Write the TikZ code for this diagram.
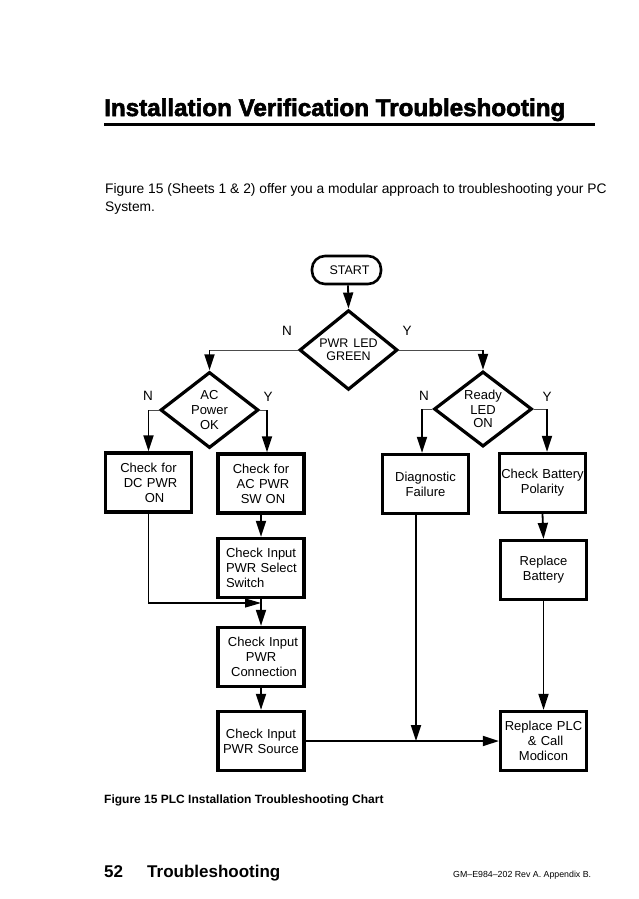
\documentclass[tikz,border=0pt]{standalone}
\usepackage{fontspec}
\setmainfont{Liberation Sans}
\newfontfamily\heavyfont{Liberation Sans Bold}[FakeBold=2.5]
\usetikzlibrary{shapes.geometric,arrows.meta,calc}
\tikzset{
  boxnode/.style={draw, line width=3.2pt, minimum height=59pt, inner sep=0pt,
    text width=86pt, align=center, font=\fontsize{13}{15}\selectfont},
  decnode/.style={draw, diamond, line width=3.2pt, minimum width=98pt, minimum height=65pt,
    inner sep=0pt, align=center, font=\fontsize{13}{15}\selectfont},
  termnode/.style={draw, line width=2.6pt, rounded corners=13pt, minimum width=69pt,
    minimum height=28pt, inner sep=0pt, font=\fontsize{12.5}{14}\selectfont},
  yn/.style={font=\fontsize{13.5}{15}\selectfont, inner sep=0pt, anchor=base},
  conn/.style={line width=1.8pt, -{Triangle[length=16pt,width=10pt]}},
  hair/.style={line width=0.9pt, draw=black!70}
}
\begin{document}
\begin{tikzpicture}[x=1pt,y=-1pt]
\useasboundingbox (0,0) rectangle (638,899);
\fill[white] (0,0) rectangle (638,899);

% heading
\node[anchor=base west, inner sep=0pt] (title) at (104,116)
  {\resizebox{461pt}{!}{\heavyfont Installation Verification Troubleshooting}};
\draw[line width=2.2pt] (104,124.5) -- (595,124.5);

\node[anchor=base west, inner sep=0pt, font=\fontsize{13.8}{15}\selectfont] (par1) at (105,193)
  {Figure 15 (Sheets 1 \& 2) offer you a modular approach to troubleshooting your PC};
\node[anchor=base west, inner sep=0pt, font=\fontsize{13.8}{15}\selectfont] (par2) at (105,211)
  {System.};

% flowchart nodes
\node[termnode] (start) at (346.5,270) {\hspace*{6pt}START};
\node[decnode, font=\fontsize{12.5}{12.5}\selectfont] (pwr) at (348.5,350) {PWR\hspace{5pt}LED\\GREEN};
\node[decnode] (ac) at (209.5,410) {AC\\Power\\OK};
\node[decnode] (ready) at (483,409) {Ready\\LED\\[-2pt]ON};

\node[boxnode] (dc) at (148.5,482.5) {Check for\hspace*{22pt}\\\hspace*{4pt}DC PWR\\\hspace*{12pt}ON};
\node[boxnode] (acpwr) at (261,483.5) {Check for\hspace*{12pt}\\\hspace*{4pt}AC PWR\\\hspace*{4pt}SW\hspace{4pt}ON};
\node[boxnode, align=left] (sel) at (261,568) {\hspace*{8pt}Check Input\\\hspace*{8pt}PWR Select\\\hspace*{8pt}Switch};
\node[boxnode] (conn) at (261,657) {\hspace*{4pt}Check Input\\PWR\\\hspace*{6pt}Connection};
\node[boxnode] (src) at (261,741) {Check Input\\PWR Source};
\node[boxnode] (diag) at (425.5,484) {Diagnostic\\Failure\\[6pt]};
\node[boxnode] (batt) at (542.5,483) {Check Battery\\Polarity\\[6pt]};
\node[boxnode] (rbatt) at (543.5,570) {Replace\\Battery};
\node[boxnode] (plc) at (543.5,741) {Replace PLC\\\hspace*{4pt}\& Call\\Modicon};

% Y / N labels
\node[yn] (pn) at (287,335) {N};
\node[yn] (py) at (407,335) {Y};
\node[yn] (an) at (148,400) {N};
\node[yn] (ay) at (268,401) {Y};
\node[yn] (rn) at (424,400) {N};
\node[yn] (ry) at (547,401) {Y};

% connectors
\draw[conn] (start.south -| 348,0) -- (pwr.north);
\coordinate (pl) at (pwr.west -| ac.north);
\coordinate (pr) at (pwr.east -| ready.north);
\draw[hair] (pwr.west) -- ([xshift=-1pt]pl);
\draw[conn] (pl) -- (ac.north);
\draw[hair] (pwr.east) -- ([xshift=1pt]pr);
\draw[conn] (pr) -- (ready.north);

\coordinate (acl) at (ac.west -| dc.north);
\coordinate (acr) at (ac.east -| 267,0);
\draw[hair] (ac.west) -- (acl);
\draw[conn] (acl) -- (dc.north);
\draw[hair] (ac.east) -- (acr);
\draw[conn] (acr) -- (acr |- acpwr.north);

\coordinate (rl) at (ready.west -| 422,0);
\coordinate (rr) at (ready.east -| 547,0);
\draw[hair] (ready.west) -- (rl);
\draw[conn] (rl) -- (rl |- diag.north);
\draw[hair] (ready.east) -- (rr);
\draw[conn] (rr) -- (rr |- batt.north);

\draw[conn] (acpwr.south) -- (sel.north);
\draw[conn] (sel.south) -- (conn.north);
\coordinate (j1) at (conn.north |- 0,603);
\draw[line width=1.2pt, -{Triangle[length=16pt,width=9pt]}] (dc.south) |- (j1);
\draw[conn] (conn.south) -- (src.north);

\draw[conn] (batt.south) -- (rbatt.north);
\draw[conn] (rbatt.south) -- (plc.north);

\coordinate (j2) at (416,0 |- src.east);
\draw[conn] (src.east) -- (plc.west);
\draw[conn] (diag.south -| j2) -- (j2);

% caption and footer
\node[anchor=base west, inner sep=0pt, font=\bfseries\fontsize{12}{14}\selectfont] (cap) at (104,803)
  {Figure 15 PLC Installation Troubleshooting Chart};
\node[anchor=base west, inner sep=0pt, font=\bfseries\fontsize{17}{20}\selectfont] (pg) at (104,877) {52};
\node[anchor=base west, inner sep=0pt, font=\bfseries\fontsize{17}{20}\selectfont] (sec) at (147,877) {Troubleshooting};
\node[anchor=base west, inner sep=0pt, font=\fontsize{8.8}{10}\selectfont] (doc) at (453,877) {GM--E984--202 Rev A. Appendix B.};
\end{tikzpicture}
\end{document}
